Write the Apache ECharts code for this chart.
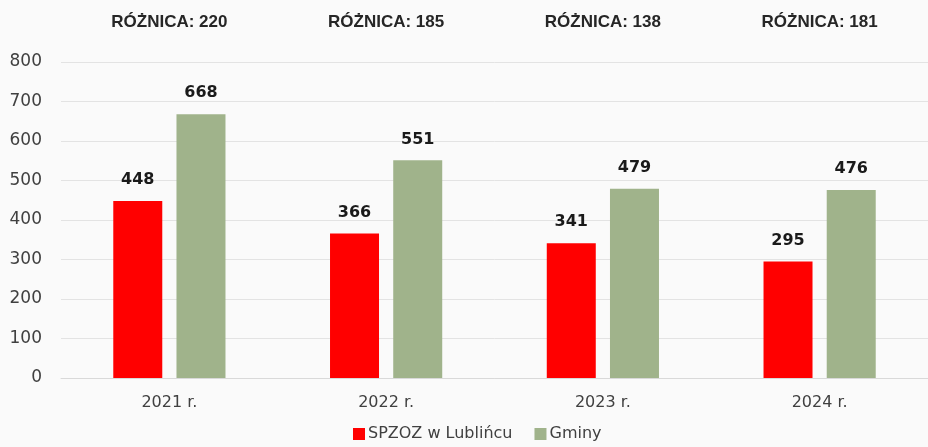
<!DOCTYPE html>
<html>
<head>
<meta charset="utf-8">
<script src="https://cdn.jsdelivr.net/npm/echarts@6/dist/echarts.min.js"></script>
<style>
  html, body { margin: 0; padding: 0; background: #fafafa; }
  #chart { width: 928px; height: 447px; }
</style>
</head>
<body>
<div id="chart"></div>
<script>
const categories = ['2021 r.', '2022 r.', '2023 r.', '2024 r.']
const spzoz = [448, 366, 341, 295]
const gminy = [668, 551, 479, 476]
const roznica = [220, 185, 138, 181]

const chart = echarts.init(document.getElementById('chart'))
chart.setOption({
  backgroundColor: '#fafafa',
  animation: false,
  grid: {
    left: 61,
    width: 872,
    top: 62,
    bottom: 69
  },
  legend: {
    left: 348,
    bottom: 0,
    itemWidth: 12,
    itemGap: 22,
    itemHeight: 12,
    icon: 'rect',
    textStyle: { fontFamily: 'DejaVu Sans', fontSize: 16, color: '#404040', padding: [0, 0, 0, -2] },
    data: ['SPZOZ w Lublińcu', 'Gminy']
  },
  xAxis: [
    {
      type: 'category',
      data: categories,
      axisLine: { lineStyle: { color: '#d9d9d9' } },
      axisTick: { show: false },
      axisLabel: { margin: 17, fontFamily: 'DejaVu Sans', fontSize: 16, color: '#404040' }
    },
    {
      type: 'category',
      position: 'top',
      data: roznica.map(v => 'RÓŻNICA: ' + v),
      axisLine: { show: false },
      axisTick: { show: false },
      axisLabel: { margin: 31, fontFamily: 'Liberation Sans', fontWeight: 'bold', fontSize: 17, color: '#262626' }
    }
  ],
  yAxis: {
    type: 'value',
    min: 0,
    max: 800,
    interval: 100,
    splitLine: { lineStyle: { color: '#e3e3e3', width: 1 } },
    axisLabel: { margin: 19, padding: [0, 0, 6, 0], fontFamily: 'DejaVu Sans', fontSize: 17, color: '#404040' }
  },
  series: [
    {
      name: 'SPZOZ w Lublińcu',
      type: 'bar',
      data: spzoz,
      barWidth: 49,
      barGap: '29%',
      itemStyle: { color: '#ff0000' },
      label: { show: true, position: 'top', distance: 13, fontFamily: 'DejaVu Sans', fontWeight: 'bold', fontSize: 16, color: '#1a1a1a' }
    },
    {
      name: 'Gminy',
      type: 'bar',
      data: gminy,
      barWidth: 49,
      itemStyle: { color: '#a0b38b' },
      label: { show: true, position: 'top', distance: 13, fontFamily: 'DejaVu Sans', fontWeight: 'bold', fontSize: 16, color: '#1a1a1a' }
    }
  ]
})
</script>
</body>
</html>
